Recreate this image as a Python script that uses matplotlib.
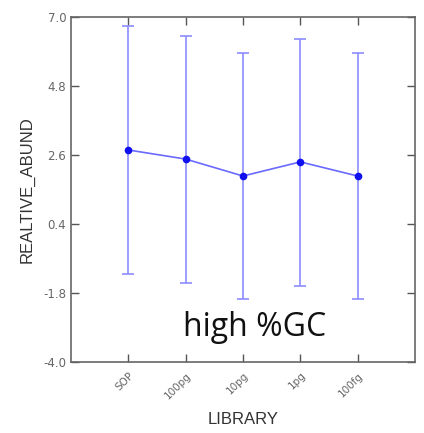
import matplotlib.pyplot as plt
import numpy as np

# data
libraries = ["SOP", "100pg", "10pg", "1pg", "100fg"]
abund = [2.76, 2.47, 1.93, 2.38, 1.93]
err_low = [3.95, 3.95, 3.92, 3.95, 3.92]
err_high = [3.95, 3.92, 3.92, 3.92, 3.92]
yticks = [-4.0, -1.8, 0.4, 2.6, 4.8, 7.0]

fig = plt.figure(figsize=(4.24, 4.33), dpi=100)
ax = fig.add_axes([71/424, 1-362/433, (415-71)/424, (362-17)/433])

x = np.arange(len(libraries))
ax.errorbar(x, abund, yerr=[err_low, err_high], fmt='none', ecolor='#8c8cff',
            elinewidth=1.2, capsize=4, capthick=1.2)
ax.plot(x, abund, color='#6a6aff', lw=1.2, marker='o', ms=4.5,
        mfc='#1010ee', mec='#1010ee')

ax.set_xlim(-1, 5)
ax.set_ylim(-4.0, 7.0)
ax.set_yticks(yticks)
ax.set_yticklabels(["%.1f" % v for v in yticks])
ax.set_xticks(x)
ax.set_xticklabels(libraries, rotation=45, ha='right', rotation_mode='anchor')

ax.tick_params(direction='in', length=6, width=1, color='#555555',
               labelcolor='#666666', labelsize=8.5, top=True, right=True)
ax.tick_params(axis='x', pad=6, labelsize=7.5)
for s in ax.spines.values():
    s.set_color('#666666')
    s.set_linewidth(1.2)

ax.set_xlabel("LIBRARY", fontsize=12, color='#333333', family='Liberation Sans', labelpad=8)
ax.set_ylabel("REALTIVE_ABUND", fontsize=12, color='#333333', family='Liberation Sans', labelpad=6)

ax.text(255/424, 1-336/433, "high %GC", transform=fig.transFigure, fontsize=23,
        family='Open Sans', color='#111111', ha='center', va='baseline')

fig.savefig("out.png", dpi=100)
